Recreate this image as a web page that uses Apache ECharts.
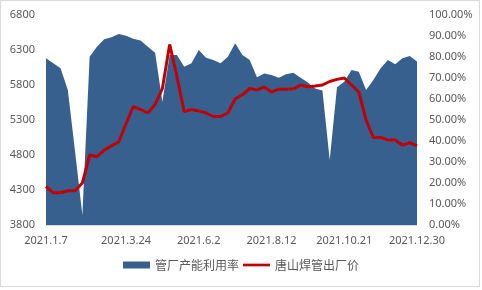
<!DOCTYPE html>
<html><head><meta charset="utf-8">
<script src="https://cdn.jsdelivr.net/npm/echarts@6/dist/echarts.min.js"></script>
<style>html,body{margin:0;padding:0;background:#fff}#c{width:482px;height:290px}</style>
</head><body><div id="c"></div>
<script>
var categories = ['2021.1.7','2021.1.14','2021.1.21','2021.1.28','2021.2.4','2021.2.11','2021.2.18','2021.2.25','2021.3.4','2021.3.11','2021.3.18',
'2021.3.24','2021.3.31','2021.4.7','2021.4.14','2021.4.21','2021.4.28','2021.5.5','2021.5.12','2021.5.19','2021.5.26',
'2021.6.2','2021.6.9','2021.6.16','2021.6.23','2021.6.30','2021.7.7','2021.7.14','2021.7.21','2021.7.28','2021.8.4',
'2021.8.12','2021.8.19','2021.8.26','2021.9.2','2021.9.9','2021.9.16','2021.9.23','2021.9.30','2021.10.8','2021.10.14',
'2021.10.21','2021.10.28','2021.11.4','2021.11.11','2021.11.18','2021.11.25','2021.12.2','2021.12.9','2021.12.16','2021.12.23',
'2021.12.30'];
var shownLabels = ['2021.1.7','2021.3.24','2021.6.2','2021.8.12','2021.10.21','2021.12.30'];
var utilization = [79.4,77.0,74.6,64.3,34.9,4.8,80.1,84.9,88.4,89.4,91.0,
90.1,88.7,87.8,84.9,82.0,58.7,81.0,81.0,75.4,77.0,
83.3,79.7,78.6,77.0,80.1,86.5,81.0,78.6,70.3,72.2,
71.4,70.1,71.8,72.5,70.1,67.8,65.0,64.0,31.0,65.6,
68.2,73.8,73.0,64.3,69.0,74.6,78.6,76.5,79.4,80.5,
77.8];
var price = [4350,4260,4260,4290,4290,4400,4800,4775,4870,4930,4990,
5250,5490,5450,5400,5520,5750,6380,5920,5420,5450,
5430,5400,5350,5350,5400,5600,5660,5750,5730,5770,
5700,5740,5740,5745,5800,5775,5785,5800,5850,5880,
5900,5800,5700,5300,5050,5050,5015,5015,4940,4975,
4930];
var leftTicks = {min:3800, max:6800, interval:500};
var rightTicks = {min:0, max:100, interval:10};

var chart = echarts.init(document.getElementById('c'));
var txt = '#595959';
chart.setOption({
  animation:false,
  graphic:[{type:'rect',shape:{x:0.5,y:0.5,width:479,height:286},style:{fill:'none',stroke:'#d9d9d9',lineWidth:1},silent:true}],
  grid:{left:46,right:65,top:15,bottom:65},
  legend:{
    bottom:14,left:'center',itemGap:4,itemWidth:27,itemHeight:7,
    textStyle:{color:txt,fontSize:12,fontFamily:'Noto Sans CJK SC'},
    data:[{name:'管厂产能利用率',icon:'rect',itemStyle:{color:'#38608f'}},
          {name:'唐山焊管出厂价',icon:'path://M0,0L30,0L30,3L0,3Z',itemStyle:{color:'#c00000'}}]
  },
  xAxis:{
    type:'category',data:categories,boundaryGap:false,
    axisLine:{lineStyle:{color:'#d9d9d9'}},axisTick:{show:false},
    axisLabel:{color:txt,fontSize:11,fontFamily:'Noto Sans',margin:10,
      interval:function(i,v){return shownLabels.indexOf(v)>=0;}}
  },
  yAxis:[
    {type:'value',min:leftTicks.min,max:leftTicks.max,interval:leftTicks.interval,
     splitLine:{show:false},axisLine:{show:false},axisTick:{show:false},
     axisLabel:{color:txt,fontSize:11,fontFamily:'Noto Sans',margin:11,
       formatter:function(v){return String(v);}}},
    {type:'value',min:rightTicks.min,max:rightTicks.max,interval:rightTicks.interval,position:'right',
     splitLine:{show:false},axisLine:{show:false},axisTick:{show:false},
     axisLabel:{color:txt,fontSize:11,fontFamily:'Noto Sans',margin:12,
       formatter:function(v){return v.toFixed(2)+'%';}}}
  ],
  series:[
    {name:'管厂产能利用率',type:'line',yAxisIndex:1,data:utilization,symbol:'none',
     lineStyle:{width:0},areaStyle:{color:'#38608f',opacity:1},itemStyle:{color:'#38608f'},z:1},
    {name:'唐山焊管出厂价',type:'line',yAxisIndex:0,data:price,symbol:'none',
     lineStyle:{width:3,color:'#c00000'},itemStyle:{color:'#c00000'},z:3}
  ]
});
</script></body></html>
